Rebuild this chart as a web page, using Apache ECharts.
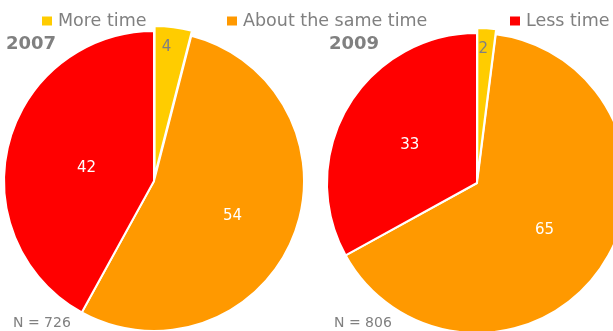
<!DOCTYPE html>
<html><head><meta charset="utf-8">
<script src="https://cdn.jsdelivr.net/npm/echarts@6/dist/echarts.min.js"></script>
<style>html,body{margin:0;padding:0;background:#fff}#c{width:613px;height:331px}</style>
</head><body><div id="c"></div>
<script>
const categories = ['More time', 'About the same time', 'Less time'];
const values2007 = [4, 54, 42];
const values2009 = [2, 65, 33];
const years = ['2007', '2009'];
const sampleSizes = ['N = 726', 'N = 806'];
const colors = ['#FFCC00', '#FF9900', '#FF0000'];

const font = 'DejaVu Sans';
// label nudges (pixels) to mimic the reference placement
const labelOffsets = [
  [[2, -52], [6, 6], [8, 7]],
  [[1, -51], [3, 3], [0, 2]]
];
function mkData(vals) {
  return vals.map((v, i) => ({
    name: categories[i], value: v,
    selected: i === 0,
    itemStyle: { color: colors[i] },
    label: { color: i === 0 ? '#808080' : '#ffffff' }
  }));
}
const chart = echarts.init(document.getElementById('c'));
const legendX = [40, 225, 508];
const tStyle = (fs, fw) => ({ fontFamily: font, fontSize: fs, fontWeight: fw, color: '#808080' });
chart.setOption({
  animation: false,
  title: [
    { text: years[0], left: 6, top: 35, padding: 0, textStyle: tStyle(18, 'bold') },
    { text: years[1], left: 329, top: 35, padding: 0, textStyle: tStyle(18, 'bold') },
    { text: sampleSizes[0], left: 13, top: 316, padding: 0, textStyle: tStyle(14, 'normal') },
    { text: sampleSizes[1], left: 334, top: 316, padding: 0, textStyle: tStyle(14, 'normal') }
  ],
  legend: categories.map((c, i) => ({
    data: [c], left: legendX[i], top: 12, itemWidth: 12, itemHeight: 11, itemGap: 0, padding: 0,
    icon: 'rect', selectedMode: false,
    textStyle: { fontFamily: font, fontSize: 17.5, color: '#808080' }
  })),
  series: [values2007, values2009].map((vals, k) => ({
    type: 'pie',
    center: k === 0 ? [154, 181] : [477, 183],
    radius: 150,
    startAngle: 90,
    clockwise: true,
    selectedMode: 'single',
    selectedOffset: 5,
    silent: true,
    label: { show: true, position: 'inside', fontFamily: font, fontSize: 15, formatter: '{c}' },
    labelLine: { show: false },
    labelLayout: (p) => ({ dx: labelOffsets[k][p.dataIndex][0], dy: labelOffsets[k][p.dataIndex][1] }),
    itemStyle: { borderColor: '#ffffff', borderWidth: 2 },
    data: mkData(vals)
  }))
});
</script></body></html>
